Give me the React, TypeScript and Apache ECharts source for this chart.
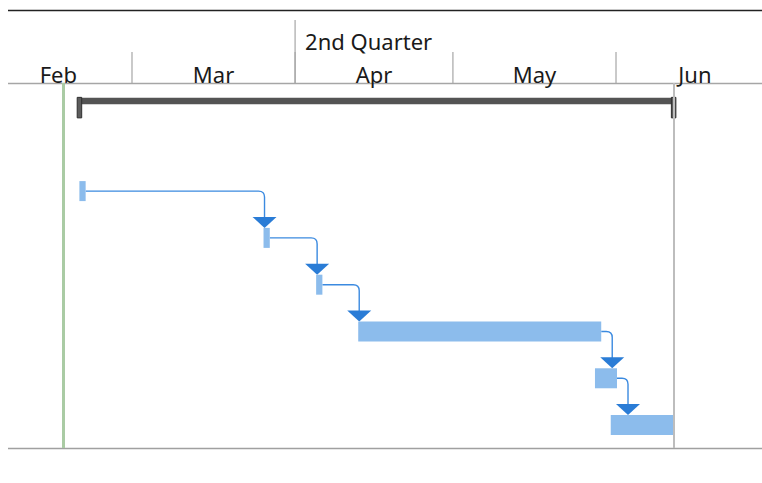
import React, { useEffect, useRef } from "react";
import * as echarts from "echarts";

// ---- data ----
const monthLabels = ["Feb", "Mar", "Apr", "May", "Jun"];
const monthStarts = ["2023-02-01", "2023-03-01", "2023-04-01", "2023-05-01", "2023-06-01"];
const monthEnds = ["2023-03-01", "2023-04-01", "2023-05-01", "2023-06-01", "2023-07-01"];
const quarterLabels = ["2nd Quarter"];
const quarterStarts = ["2023-04-01"];
const quarterEnds = ["2023-07-01"];

const taskStarts = ["2023-02-19", "2023-03-26", "2023-04-05", "2023-04-13", "2023-05-28", "2023-05-31"];
const taskEnds = ["2023-02-20", "2023-03-27", "2023-04-06", "2023-05-29", "2023-06-01", "2023-06-12"];
const taskRows = [0, 1, 2, 3, 4, 5];
const linkFrom = [0, 1, 2, 3, 4];
const linkTo = [1, 2, 3, 4, 5];

const summaryStart = "2023-02-19";
const summaryEnd = "2023-06-12";
const summaryRow = -1.8;
const todayDate = "2023-02-16";
const finishDate = "2023-06-12";

const DAY = 86400000;
const T = (s: string) => +new Date(s + "T00:00:00");

const FONT = '"Noto Sans", "Open Sans", sans-serif';

export default function App() {
  const ref = useRef<HTMLDivElement>(null);
  useEffect(() => {
    document.body.style.margin = "0";
    const chart = echarts.init(ref.current!, null, { renderer: "svg" });
    const mar1 = T("2023-03-01");

    const headerMonths = monthLabels.map((m, i) => [T(monthStarts[i]), T(monthEnds[i]), m]);
    const headerQuarters = quarterLabels.map((q, i) => [T(quarterStarts[i]), T(quarterEnds[i]), q]);
    const tasks = taskRows.map((r, i) => [T(taskStarts[i]), T(taskEnds[i]), r]);
    const links = linkFrom.map((a, i) => {
      const b = linkTo[i];
      return [T(taskEnds[a]), taskRows[a], T(taskStarts[b]), taskRows[b]];
    });

    const option: any = {
      animation: false,
      grid: { left: 0, right: 0, top: 83, bottom: 35 },
      xAxis: {
        type: "time",
        min: mar1 - 25.09 * DAY,
        max: mar1 + 119.75 * DAY,
        show: false,
        splitLine: { show: false },
      },
      yAxis: { type: "value", inverse: true, min: -2.31, max: 5.49, show: false },
      graphic: [
        { type: "line", shape: { x1: 8, y1: 10.5, x2: 762, y2: 10.5 }, style: { stroke: "#222", lineWidth: 1.5 } },
        { type: "line", shape: { x1: 8, y1: 83.5, x2: 762, y2: 83.5 }, style: { stroke: "#a6a6a6", lineWidth: 1.5 } },
        { type: "line", shape: { x1: 8, y1: 448.5, x2: 762, y2: 448.5 }, style: { stroke: "#a0a0a0", lineWidth: 1.5 } },
      ],
      series: [
        {
          type: "custom",
          name: "months",
          silent: true,
          data: headerMonths,
          encode: { x: [0, 1] },
          renderItem: (params: any, api: any) => {
            const s = api.coord([api.value(0), 0])[0];
            const e = api.coord([api.value(1), 0])[0];
            const label = headerMonths[params.dataIndex][2] as string;
            return {
              type: "group",
              children: [
                { type: "line", shape: { x1: s, y1: 52, x2: s, y2: 83 }, style: { stroke: "#a6a6a6", lineWidth: 1.2 } },
                {
                  type: "text",
                  style: { text: label, x: (s + e) / 2, y: 73.5, align: "center", verticalAlign: "middle", fontSize: 22, fontFamily: FONT, fill: "#1a1a1a" },
                },
              ],
            };
          },
        },
        {
          type: "custom",
          name: "quarters",
          silent: true,
          data: headerQuarters,
          encode: { x: [0, 1] },
          renderItem: (params: any, api: any) => {
            const s = api.coord([api.value(0), 0])[0];
            const label = headerQuarters[params.dataIndex][2] as string;
            return {
              type: "group",
              children: [
                { type: "line", shape: { x1: s, y1: 20, x2: s, y2: 83 }, style: { stroke: "#a6a6a6", lineWidth: 1.2 } },
                {
                  type: "text",
                  style: { text: label, x: s + 10, y: 40.5, align: "left", verticalAlign: "middle", fontSize: 22, fontFamily: FONT, fill: "#1a1a1a" },
                },
              ],
            };
          },
        },
        {
          type: "custom",
          name: "markers",
          silent: true,
          data: [],
          renderItem: () => null,
          markLine: {
            silent: true,
            symbol: "none",
            label: { show: false },
            data: [
              { xAxis: T(todayDate), lineStyle: { color: "#aacba4", width: 3, type: "solid" } },
              { xAxis: T(finishDate), lineStyle: { color: "#bdbdbd", width: 2, type: "solid" } },
            ],
          },
        },
        {
          type: "custom",
          name: "summary",
          silent: true,
          data: [[T(summaryStart), T(summaryEnd), summaryRow]],
          encode: { x: [0, 1], y: 2 },
          renderItem: (params: any, api: any) => {
            const a = api.coord([api.value(0), api.value(2)]);
            const b = api.coord([api.value(1), api.value(2)]);
            const cy = a[1];
            return {
              type: "group",
              children: [
                { type: "rect", shape: { x: a[0], y: cy - 9, width: b[0] - a[0], height: 6.5 }, style: { fill: "#545454" } },
                { type: "rect", shape: { x: a[0] - 2.2, y: cy - 9.5, width: 4.5, height: 20.5 }, style: { fill: "#5c5c5c", stroke: "#2e2e2e", lineWidth: 1 } },
                { type: "rect", shape: { x: b[0] - 2.5, y: cy - 9.5, width: 4.5, height: 20.5 }, style: { fill: "#5c5c5c", stroke: "#2e2e2e", lineWidth: 1 } },
              ],
            };
          },
        },
        {
          type: "custom",
          name: "links",
          silent: true,
          data: links,
          encode: { x: [0, 2], y: [1, 3] },
          renderItem: (params: any, api: any) => {
            const p = api.coord([api.value(0), api.value(1)]);
            const s = api.coord([api.value(2), api.value(3)]);
            const px = p[0] + 1;
            const py = p[1];
            const ax = Math.max(s[0] + 1, px + 11);
            const tip = s[1] - 10;
            const top = tip - 11;
            const r = 6;
            const d = `M ${px} ${py} L ${ax - r} ${py} Q ${ax} ${py} ${ax} ${py + r} L ${ax} ${top + 1}`;
            return {
              type: "group",
              children: [
                { type: "path", shape: { pathData: d }, style: { fill: "none", stroke: "#3b8ae0", lineWidth: 1.4 } },
                { type: "polygon", shape: { points: [[ax - 12, top], [ax + 12, top], [ax, tip]] }, style: { fill: "#2a7cd6" } },
              ],
            };
          },
        },
        {
          type: "custom",
          name: "tasks",
          silent: true,
          data: tasks,
          encode: { x: [0, 1], y: 2 },
          renderItem: (params: any, api: any) => {
            const a = api.coord([api.value(0), api.value(2)]);
            const b = api.coord([api.value(1), api.value(2)]);
            return {
              type: "rect",
              shape: { x: a[0], y: a[1] - 10, width: b[0] - a[0] + 1, height: 20 },
              style: { fill: "#8cbcec" },
            };
          },
        },
      ],
    };
    chart.setOption(option);
    return () => chart.dispose();
  }, []);
  return <div ref={ref} style={{ width: 762, height: 483 }} />;
}
